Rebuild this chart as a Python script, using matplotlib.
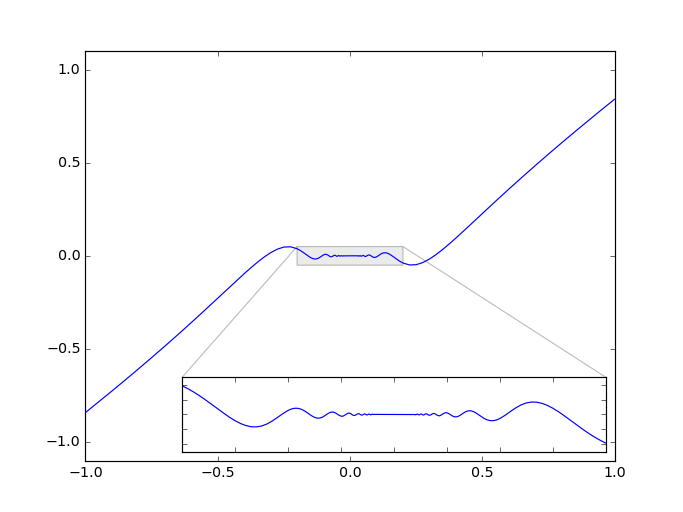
import matplotlib
matplotlib.use("Agg")
import matplotlib.pyplot as plt

# Curve values read for x >= 0 (the curve is odd-symmetric: y(-x) = -y(x))
x_pos = [0.0200, 0.0205, 0.0210, 0.0215, 0.0220, 0.0225, 0.0230, 0.0235, 0.0240, 0.0245,
         0.0250, 0.0255, 0.0260, 0.0265, 0.0270, 0.0275, 0.0280, 0.0285, 0.0290, 0.0295,
         0.030, 0.031, 0.032, 0.033, 0.034, 0.035, 0.036, 0.037, 0.038, 0.039,
         0.040, 0.041, 0.042, 0.043, 0.044, 0.045, 0.046, 0.047, 0.048, 0.049,
         0.0500, 0.0525, 0.0550, 0.0575, 0.0600, 0.0625, 0.0650, 0.0675, 0.0700, 0.0725,
         0.0750, 0.0775, 0.0800, 0.0825, 0.0850, 0.0875, 0.0900, 0.0925, 0.0950, 0.0975,
         0.100, 0.105, 0.110, 0.115, 0.120, 0.125, 0.130, 0.135, 0.140, 0.145,
         0.150, 0.155, 0.160, 0.165, 0.170, 0.175, 0.180, 0.185, 0.190, 0.195,
         0.200, 0.225, 0.250, 0.275, 0.300, 0.325, 0.350, 0.375, 0.400, 0.425,
         0.450, 0.475,
         0.50, 0.55, 0.60, 0.65, 0.70, 0.75, 0.80, 0.85, 0.90, 0.95, 1.00]
y_pos = [-0.00010, -0.00042, -0.00021, 0.00027, 0.00048, 0.00023, -0.00026, -0.00055, -0.00042, 0.00001,
         0.00047, 0.00065, 0.00047, 0.00003, -0.00045, -0.00074, -0.00072, -0.00041, 0.00006, 0.00053,
         0.00085, 0.00072, -0.00017, -0.00098, -0.00105, -0.00036, 0.00062, 0.00130, 0.00134, 0.00074,
         -0.00021, -0.00114, -0.00171, -0.00176, -0.00130, -0.00046, 0.00053, 0.00145, 0.00211, 0.00240,
         0.00228, 0.00054, -0.00187, -0.00329, -0.00295, -0.00112, 0.00134, 0.00355, 0.00485, 0.00495,
         0.00390, 0.00199, -0.00042, -0.00293, -0.00519, -0.00695, -0.00805, -0.00841, -0.00805, -0.00703,
         -0.00544, -0.00109, 0.00397, 0.00881, 0.01278, 0.01546, 0.01668, 0.01644, 0.01485, 0.01210,
         0.00842, 0.00403, -0.00085, -0.00601, -0.01128, -0.01650, -0.02155, -0.02633, -0.03076, -0.03478,
         -0.03836, -0.04882, -0.04730, -0.03591, -0.01715, 0.00683, 0.03438, 0.06430, 0.09576, 0.12814,
         0.16103, 0.19416,
         0.22732, 0.29329, 0.35835, 0.42228, 0.48505, 0.54672, 0.60735, 0.66705, 0.72592, 0.78403, 0.84147]

x = [-v for v in reversed(x_pos)] + [0.0] + x_pos
y = [-v for v in reversed(y_pos)] + [0.0] + y_pos

main_xlim = (-1.0, 1.0)
main_ylim = (-1.1, 1.1)
zoom_xlim = (-0.2, 0.2)
zoom_ylim = (-0.05, 0.05)
main_xticks = [-1.0, -0.5, 0.0, 0.5, 1.0]
main_yticks = [-1.0, -0.5, 0.0, 0.5, 1.0]
zoom_xticks = [-0.2, -0.15, -0.1, -0.05, 0.0, 0.05, 0.1, 0.15, 0.2]
zoom_yticks = [-0.04, -0.02, 0.0, 0.02, 0.04]

plt.style.use('classic')
fig, ax = plt.subplots(figsize=(8, 6), dpi=85.375)
ax.plot(x, y, 'b-', zorder=3)
ax.set_xlim(*main_xlim)
ax.set_ylim(*main_ylim)
ax.set_xticks(main_xticks)
ax.set_yticks(main_yticks)

axins = ax.inset_axes([0.183, 0.022, 0.8, 0.182])
axins.plot(x, y, 'b-')
axins.set_xlim(*zoom_xlim)
axins.set_ylim(*zoom_ylim)
axins.set_xticks(zoom_xticks)
axins.set_yticks(zoom_yticks)
axins.tick_params(labelbottom=False, labelleft=False, labeltop=False, labelright=False)

ax.indicate_inset_zoom(axins, facecolor='0.85', edgecolor='0.5', alpha=0.5, zorder=1)

fig.savefig('out.png', dpi=85.375)
